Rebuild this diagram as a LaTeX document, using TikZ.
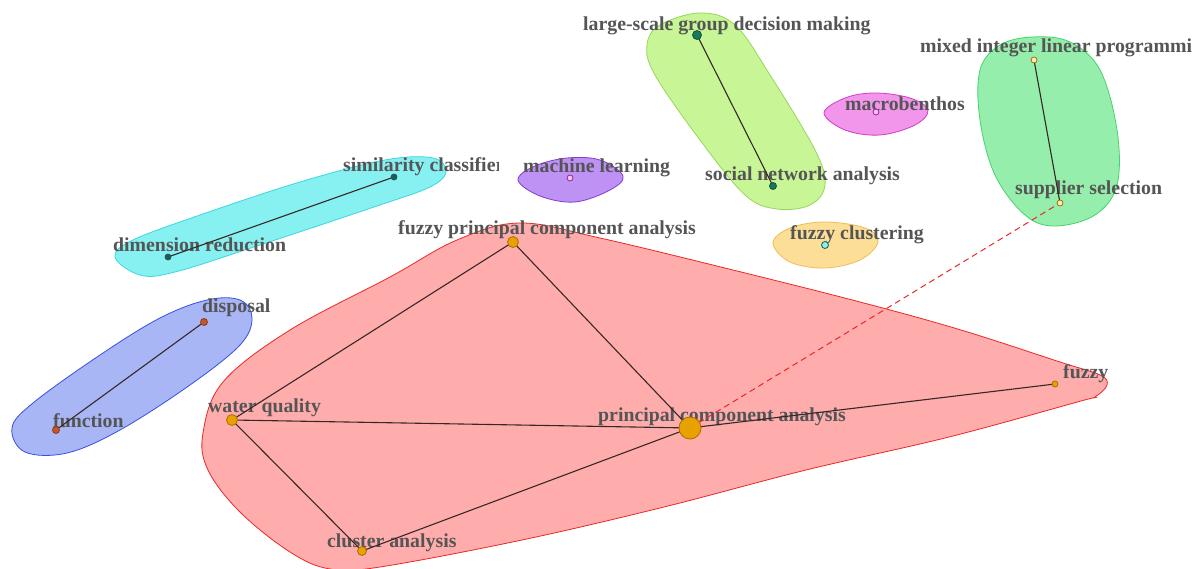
\documentclass[tikz,border=0pt]{standalone}
\usepackage{fontspec}
\setmainfont{Liberation Serif}
\definecolor{labelgray}{RGB}{85,85,85}
\definecolor{edgecol}{RGB}{55,40,40}
\definecolor{redfill}{RGB}{255,172,172}
\definecolor{redline}{RGB}{235,40,40}
\definecolor{cyanfill}{RGB}{135,240,240}
\definecolor{cyanline}{RGB}{60,215,225}
\definecolor{bluefill}{RGB}{168,182,245}
\definecolor{blueline}{RGB}{55,80,225}
\definecolor{purplefill}{RGB}{190,145,245}
\definecolor{purpleline}{RGB}{130,60,210}
\definecolor{lgfill}{RGB}{200,245,150}
\definecolor{lgline}{RGB}{150,215,90}
\definecolor{magfill}{RGB}{242,150,235}
\definecolor{magline}{RGB}{210,60,200}
\definecolor{orfill}{RGB}{252,222,150}
\definecolor{orline}{RGB}{235,190,90}
\definecolor{grfill}{RGB}{150,238,172}
\definecolor{grline}{RGB}{70,210,110}
\definecolor{dotorange}{RGB}{232,162,0}
\definecolor{dotorangeb}{RGB}{170,110,0}
\definecolor{dotgreen}{RGB}{25,120,90}
\definecolor{dotteal}{RGB}{30,90,90}
\definecolor{dotrust}{RGB}{200,85,40}
\tikzset{
  lbl/.style={font=\fontsize{19.8}{21}\selectfont\bfseries, text=labelgray, inner sep=0pt, anchor=base west},
  hull/.style={line width=0.8pt},
  edge/.style={draw=edgecol, line width=1.1pt},
  dotpt/.style={circle, inner sep=0pt, minimum size=#1, line width=0.8pt},
}
\begin{document}
\begin{tikzpicture}[x=1pt,y=-1pt]
\clip (0,0) rectangle (1192,569);
\fill[white] (0,0) rectangle (1192,569);

% hulls
\filldraw[hull, fill=redfill, draw=redline] plot[smooth cycle, tension=0.6] coordinates {(457,240) (520,223) (600,238) (733,270) (860,302) (961,330) (1060,362) (1100,375) (1107,385) (1095,397) (1081,401) (949,437) (806,470) (664,507) (522,540) (380,567) (330,569) (290,552) (240,512) (208,470) (203,433) (223,382) (290,330) (390,277)};
\filldraw[hull, fill=cyanfill, draw=cyanline] plot[smooth cycle, tension=0.6] coordinates {(115,257) (133,240) (200,215) (300,182) (385,160) (433,158) (446,172) (430,187) (380,205) (260,245) (175,272) (140,275)};
\filldraw[hull, fill=bluefill, draw=blueline] plot[smooth cycle, tension=0.6] coordinates {(12,428) (33,403) (100,355) (160,318) (207,300) (240,300) (252,318) (240,345) (190,385) (120,430) (67,453) (25,452)};
\filldraw[hull, fill=purplefill, draw=purpleline] plot[smooth cycle, tension=0.6] coordinates {(518,180) (535,166) (567,158) (600,160) (623,176) (610,190) (575,202) (540,196)};
\filldraw[hull, fill=lgfill, draw=lgline] plot[smooth cycle, tension=0.6] coordinates {(660,25) (700,13) (735,25) (770,75) (815,150) (825,185) (810,205) (777,209) (745,195) (700,140) (655,75) (647,45)};
\filldraw[hull, fill=magfill, draw=magline] plot[smooth cycle, tension=0.6] coordinates {(824,113) (845,98) (875,93) (910,98) (928,110) (915,125) (880,135) (845,130)};
\filldraw[hull, fill=orfill, draw=orline] plot[smooth cycle, tension=0.6] coordinates {(773,243) (790,228) (825,222) (865,228) (878,242) (860,260) (825,268) (790,262)};
\filldraw[hull, fill=grfill, draw=grline] plot[smooth cycle, tension=0.6] coordinates {(1000,45) (1033,37) (1070,42) (1100,70) (1117,130) (1117,185) (1095,215) (1055,226) (1025,215) (995,175) (980,120) (980,70)};

% labels
\node[lbl] (tlsg) at (583,31) {large-scale group decision making};
\node[lbl] (tsna) at (705,181) {social network analysis};
\node[lbl] (tmac) at (845,111) {macrobenthos};
\node[lbl] (tml) at (523,173) {machine learning};
\node[lbl] (tfc) at (790,240) {fuzzy clustering};
\node[lbl] (tfpca) at (398,235) {fuzzy principal component analysis};
\node[lbl] (tmil) at (920,53) {mixed integer linear programming};
\node[lbl] (tss) at (1015,195) {supplier selection};
\begin{scope}
\clip (0,0) rectangle (498,569);
\node[lbl] (tsim) at (343,172) {similarity classifier};
\end{scope}
\node[lbl] (tdim) at (113,252) {dimension reduction};
\node[lbl] (tdis) at (202,313) {disposal};
\node[lbl] (tfun) at (53,427) {function};
\node[lbl] (twq) at (208,412) {water quality};
\node[lbl] (tpca) at (598,421) {principal component analysis};
\node[lbl] (tfz) at (1063,379) {fuzzy};
\node[lbl] (tca) at (327,547) {cluster analysis};

% dot coordinates
\coordinate (lsg) at (697,35);
\coordinate (sna) at (773,186);
\coordinate (mac) at (876,112);
\coordinate (ml) at (570,178);
\coordinate (fc) at (825,245);
\coordinate (fpca) at (513,242);
\coordinate (mil) at (1034,60);
\coordinate (ss) at (1060,203);
\coordinate (sim) at (394,177);
\coordinate (dim) at (168,257);
\coordinate (dis) at (204,322);
\coordinate (fun) at (56,430);
\coordinate (wq) at (232,420);
\coordinate (pca) at (690,428);
\coordinate (fz) at (1055,384);
\coordinate (ca) at (362,551);

% edges
\draw[edge] (wq) -- (fpca);
\draw[edge] (wq) -- (pca);
\draw[edge] (wq) -- (ca);
\draw[edge] (ca) -- (pca);
\draw[edge] (fpca) -- (pca);
\draw[edge] (pca) -- (fz);
\draw[edge] (dis) -- (fun);
\draw[edge] (sim) -- (dim);
\draw[edge] (lsg) -- (sna);
\draw[edge] (mil) -- (ss);
\draw[draw=redline, line width=1pt, dash pattern=on 6pt off 4pt] (pca) -- (ss);

% dots
\node[dotpt=22pt, fill=dotorange, draw=dotorangeb] (npca) at (pca) {};
\node[dotpt=11pt, fill=dotorange, draw=dotorangeb] (nfpca) at (fpca) {};
\node[dotpt=11pt, fill=dotorange, draw=dotorangeb] (nwq) at (wq) {};
\node[dotpt=9pt, fill=dotorange, draw=dotorangeb] (nca) at (ca) {};
\node[dotpt=6pt, fill=dotorange, draw=dotorangeb] (nfz) at (fz) {};
\node[dotpt=9pt, fill=dotgreen, draw=dotgreen!70!black] (nlsg) at (lsg) {};
\node[dotpt=7pt, fill=dotgreen, draw=dotgreen!70!black] (nsna) at (sna) {};
\node[dotpt=6pt, fill=dotteal, draw=dotteal] (nsim) at (sim) {};
\node[dotpt=6pt, fill=dotteal, draw=dotteal] (ndim) at (dim) {};
\node[dotpt=7pt, fill=dotrust, draw=dotrust!70!black] (ndis) at (dis) {};
\node[dotpt=7pt, fill=dotrust, draw=dotrust!70!black] (nfun) at (fun) {};
\node[dotpt=6pt, fill=orfill!60!white, draw=dotorangeb] (nmil) at (mil) {};
\node[dotpt=6pt, fill=orfill!60!white, draw=dotorangeb] (nss) at (ss) {};
\node[dotpt=6pt, fill=magfill!60!white, draw=magline!70!black] (nmac) at (mac) {};
\node[dotpt=6pt, fill=magfill!60!white, draw=magline!70!black] (nml) at (ml) {};
\node[dotpt=7pt, fill=cyanfill, draw=dotteal] (nfc) at (fc) {};
\end{tikzpicture}
\end{document}
